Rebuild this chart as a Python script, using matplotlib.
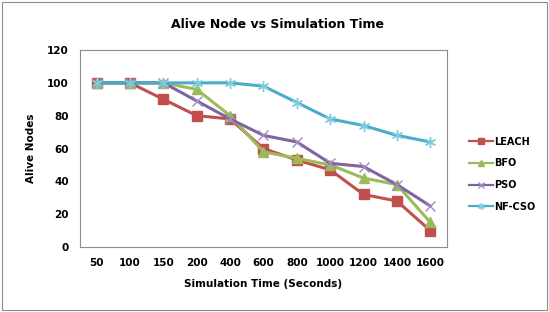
import matplotlib
matplotlib.use("Agg")
import matplotlib.pyplot as plt
from matplotlib.patches import Rectangle

# data
sim_time = ['50', '100', '150', '200', '400', '600', '800', '1000', '1200', '1400', '1600']
leach = [100, 100, 90, 80, 78, 60, 53, 47, 32, 28, 10]
bfo = [100, 100, 100, 96, 80, 58, 54, 50, 42, 38, 15]
pso = [100, 100, 100, 89, 78, 68, 64, 51, 49, 38, 25]
nfcso = [100, 100, 100, 100, 100, 98, 88, 78, 74, 68, 64]

fig = plt.figure(figsize=(5.49, 3.12), dpi=100)
ax = fig.add_axes([0.1457, 0.2083, 0.6685, 0.6314])

x = range(len(sim_time))
ax.plot(x, leach, color='#C0504D', lw=2.2, marker='s', ms=6.5, label='LEACH')
ax.plot(x, bfo, color='#9BBB59', lw=2.2, marker='^', ms=6.5, label='BFO')
ax.plot(x, pso, color='#8064A2', lw=2.2, marker='x', ms=6.5, mew=1.0,
        mec='#A08CC0', label='PSO')
ax.plot(x, nfcso, color='#4BACC6', lw=2.2, marker=(6, 2, 0), ms=8, mew=1.0,
        mec='#7FCBE0', label='NF-CSO')

ax.set_xlim(-0.5, len(sim_time) - 0.5)
ax.set_ylim(0, 120)
ax.set_yticks(range(0, 121, 20))
ax.set_xticks(list(x))
ax.set_xticklabels(sim_time)
for lbl in ax.get_xticklabels() + ax.get_yticklabels():
    lbl.set_fontweight('bold')
    lbl.set_fontsize(7.5)
ax.tick_params(length=0, pad=8)

for s in ax.spines.values():
    s.set_color('#8C8C8C')
    s.set_linewidth(0.8)

ax.set_xlabel('Simulation Time (Seconds)', fontsize=7.5, fontweight='bold', labelpad=8)
ax.set_ylabel('Alive Nodes', fontsize=7.5, fontweight='bold', labelpad=8)
fig.text(0.505, 0.92, 'Alive Node vs Simulation Time', ha='center', va='center',
         fontsize=9, fontweight='bold')

leg = fig.legend(loc='center left', bbox_to_anchor=(0.838, 0.442), frameon=False,
                 prop={'weight': 'bold', 'size': 7}, handlelength=2.5,
                 labelspacing=1.2, handletextpad=0.15, markerscale=0.6)
for h in leg.get_lines():
    h.set_linewidth(1.6)

# outer chart border
fig.patches.append(Rectangle((0.004, 0.006), 0.992, 0.988, transform=fig.transFigure,
                             fill=False, edgecolor='#8C8C8C', lw=0.8))

fig.savefig('out.png', dpi=100)
